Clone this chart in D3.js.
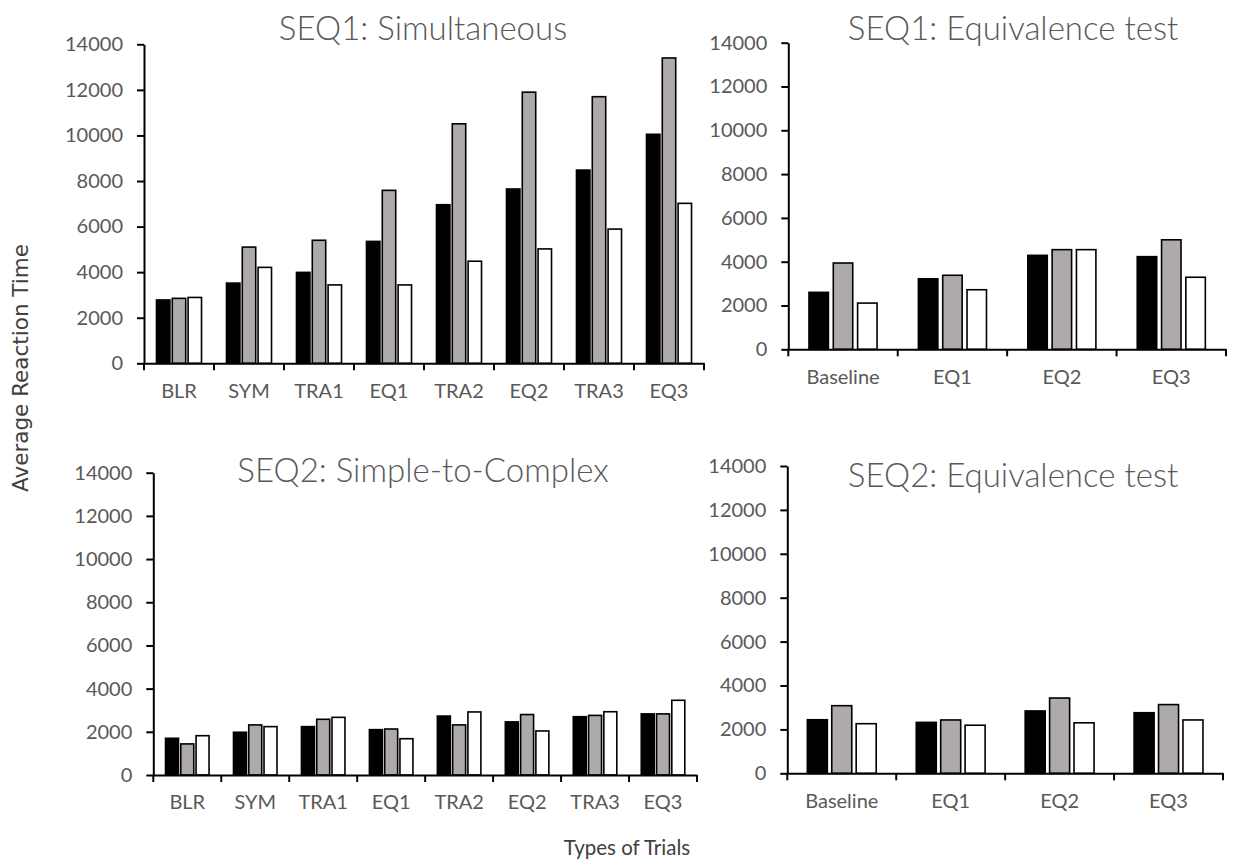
<!DOCTYPE html>
<html>
<head>
<meta charset="utf-8">
<script src="https://cdn.jsdelivr.net/npm/d3@7"></script>
<style>
  html, body { margin: 0; padding: 0; background: #fff; }
  svg { display: block; }
</style>
</head>
<body>
<svg id="chart" width="1250" height="861"></svg>
<script>
// ---- Data ----
const yTicks = [0, 2000, 4000, 6000, 8000, 10000, 12000, 14000];
const seriesNames = ["Series A", "Series B", "Series C"];

const seq1SimCats  = ["BLR", "SYM", "TRA1", "EQ1", "TRA2", "EQ2", "TRA3", "EQ3"];
const seq1SimBlack = [2780, 3520, 3990, 5350, 6960, 7650, 8480, 10050];
const seq1SimGray  = [2850, 5100, 5400, 7590, 10510, 11900, 11700, 13400];
const seq1SimWhite = [2890, 4210, 3440, 3440, 4480, 5020, 5890, 7020];

const seq1EqCats  = ["Baseline", "EQ1", "EQ2", "EQ3"];
const seq1EqBlack = [2600, 3220, 4290, 4230];
const seq1EqGray  = [3940, 3380, 4550, 5000];
const seq1EqWhite = [2110, 2720, 4550, 3290];

const seq2StcCats  = ["BLR", "SYM", "TRA1", "EQ1", "TRA2", "EQ2", "TRA3", "EQ3"];
const seq2StcBlack = [1700, 1980, 2240, 2100, 2730, 2460, 2700, 2830];
const seq2StcGray  = [1440, 2320, 2580, 2130, 2320, 2800, 2760, 2830];
const seq2StcWhite = [1820, 2240, 2670, 1680, 2920, 2040, 2930, 3460];

const seq2EqCats  = ["Baseline", "EQ1", "EQ2", "EQ3"];
const seq2EqBlack = [2440, 2320, 2840, 2760];
const seq2EqGray  = [3080, 2430, 3430, 3130];
const seq2EqWhite = [2260, 2190, 2300, 2430];

// ---- Styles ----
const fills = ["#000000", "#aeaaaa", "#ffffff"];
const textColor = "#595959";
const tickFont = "Lato, 'Open Sans', sans-serif";

const svg = d3.select("#chart");

function panel(opt) {
  const g = svg.append("g");
  const x = d3.scaleBand().domain(opt.cats).range([opt.x0, opt.x1]).padding(0);
  const y = d3.scaleLinear().domain([0, 14000]).range([opt.y0, opt.y1]);
  const inner = d3.scaleBand().domain(seriesNames).range([0, x.bandwidth()])
      .paddingInner(opt.pi).paddingOuter(opt.po);
  const series = [opt.black, opt.gray, opt.white];

  // bars
  series.forEach((vals, si) => {
    g.append("g").selectAll("rect").data(opt.cats).join("rect")
      .attr("x", (c) => x(c) + inner(seriesNames[si]))
      .attr("y", (c, i) => y(vals[i]))
      .attr("width", inner.bandwidth())
      .attr("height", (c, i) => y(0) - y(vals[i]))
      .attr("fill", fills[si])
      .attr("stroke", "#000")
      .attr("stroke-width", 1.6);
  });

  // y axis
  const ya = g.append("g").attr("transform", `translate(${opt.x0},0)`)
    .call(d3.axisLeft(y).tickValues(yTicks).tickSize(7).tickSizeOuter(0).tickPadding(14).tickFormat(d3.format("d")));
  ya.select(".domain").attr("stroke", "#000").attr("stroke-width", 2);
  ya.selectAll(".tick line").attr("stroke", "#000").attr("stroke-width", 2);
  ya.selectAll(".tick text").attr("fill", textColor).style("font-family", tickFont).style("font-size", "20px");

  // x axis (labels centred in bands, ticks at band boundaries)
  const xa = g.append("g").attr("transform", `translate(0,${opt.y0})`)
    .call(d3.axisBottom(x).tickSize(0).tickSizeOuter(0).tickPadding(opt.labPad));
  xa.select(".domain").attr("stroke", "#000").attr("stroke-width", 2);
  xa.selectAll(".tick text").attr("fill", textColor).style("font-family", tickFont).style("font-size", "20px");
  const bounds = opt.cats.map((c) => x(c)).concat([x.range()[1]]);
  xa.selectAll("line.bnd").data(bounds).join("line").attr("class", "bnd")
    .attr("x1", (d) => d).attr("x2", (d) => d).attr("y1", 0).attr("y2", 7)
    .attr("stroke", "#000").attr("stroke-width", 2);

  // title
  svg.append("text").attr("x", opt.tx).attr("y", opt.ty)
    .attr("text-anchor", "middle").attr("dominant-baseline", "central")
    .attr("fill", textColor).style("font-family", tickFont).style("font-size", "33px")
    .style("font-weight", 300)
    .text(opt.title);
}

panel({ title: "SEQ1: Simultaneous", cats: seq1SimCats, black: seq1SimBlack, gray: seq1SimGray, white: seq1SimWhite,
        x0: 144, x1: 704, y0: 363.3, y1: 44.3, pi: 0.15, po: 0.79, labPad: 21, tx: 423, ty: 27 });
panel({ title: "SEQ1: Equivalence test", cats: seq1EqCats, black: seq1EqBlack, gray: seq1EqGray, white: seq1EqWhite,
        x0: 788.3, x1: 1226, y0: 349.3, y1: 42.7, pi: 0.2, po: 0.85, labPad: 21, tx: 1013, ty: 27 });
panel({ title: "SEQ2: Simple-to-Complex", cats: seq2StcCats, black: seq2StcBlack, gray: seq2StcGray, white: seq2StcWhite,
        x0: 153.3, x1: 697, y0: 775, y1: 472.7, pi: 0.15, po: 0.8, labPad: 20, tx: 423, ty: 469 });
panel({ title: "SEQ2: Equivalence test", cats: seq2EqCats, black: seq2EqBlack, gray: seq2EqGray, white: seq2EqWhite,
        x0: 787.3, x1: 1223, y0: 773.3, y1: 466, pi: 0.18, po: 0.82, labPad: 21, tx: 1013, ty: 474 });

// axis titles
svg.append("text").attr("transform", "translate(20,368) rotate(-90)")
  .attr("text-anchor", "middle").attr("dominant-baseline", "central")
  .attr("fill", "#404040").style("font-family", "'DejaVu Sans', sans-serif").style("font-size", "21.5px")
  .text("Average Reaction Time");
svg.append("text").attr("x", 627).attr("y", 847)
  .attr("text-anchor", "middle").attr("dominant-baseline", "central")
  .attr("fill", "#404040").style("font-family", tickFont).style("font-size", "20.5px")
  .text("Types of Trials");
</script>
</body>
</html>
